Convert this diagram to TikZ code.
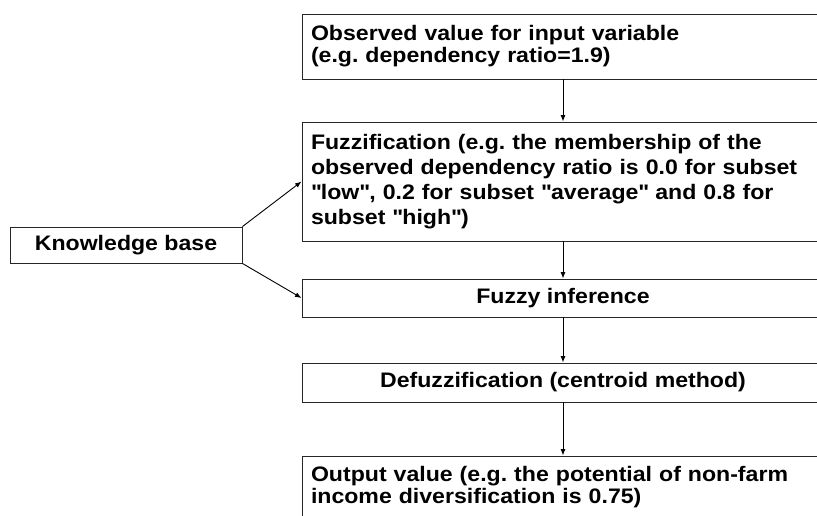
\documentclass[tikz,border=0pt]{standalone}
\usepackage{fontspec}
\setmainfont{Liberation Sans}[FakeStretch=1.1]
\usetikzlibrary{positioning,arrows.meta}
\frenchspacing

\begin{document}
\begin{tikzpicture}[x=1pt, y=-1pt,
    box/.style={draw=black!85, line width=0.9pt, minimum width=522pt,
                font=\fontsize{21}{22}\selectfont\bfseries, inner sep=0pt},
    lbox/.style={box, align=left, text width=504pt, inner xsep=9pt},
    arr/.style={-{Latex[length=6.5pt,width=5pt]}, line width=0.9pt},
]
\useasboundingbox (0,0) rectangle (817,515);
\clip (0,0) rectangle (817,515);

% ===== Main chain: top to bottom =====
\node[lbox, minimum height=65pt] at (563,46.5) (obs)
     {Observed value for input variable\\(e.g. dependency ratio=1.9)};
\node[lbox, minimum height=119pt, font=\fontsize{21}{25}\selectfont\bfseries]
     at (563,181.5) (fuzz)
     {Fuzzification (e.g. the membership of the\\observed dependency ratio is 0.0 for subset\\\textquotedbl low\textquotedbl, 0.2 for subset \textquotedbl average\textquotedbl{} and 0.8 for\\subset \textquotedbl high\textquotedbl)};
\node[box, minimum height=38pt] at (563,298) (infer) {Fuzzy inference};
\node[box, minimum height=39pt] at (563,382.5) (defuzz) {Defuzzification (centroid method)};
\node[lbox, minimum height=63pt] at (563,487.5) (output)
     {Output value (e.g. the potential of non-farm\\income diversification is 0.75)};

% ===== Side input =====
\node[box, minimum width=232pt, minimum height=36pt] at (126,245) (kb) {Knowledge base};

% ===== Arrows =====
\draw[arr] (obs) -- (fuzz);
\draw[arr] (fuzz) -- (infer);
\draw[arr] (infer) -- (defuzz);
\draw[arr] (defuzz) -- (output);
\draw[arr] (kb.north east) -- (fuzz.west);
\draw[arr] (kb.south east) -- (infer.west);

\end{tikzpicture}
\end{document}
